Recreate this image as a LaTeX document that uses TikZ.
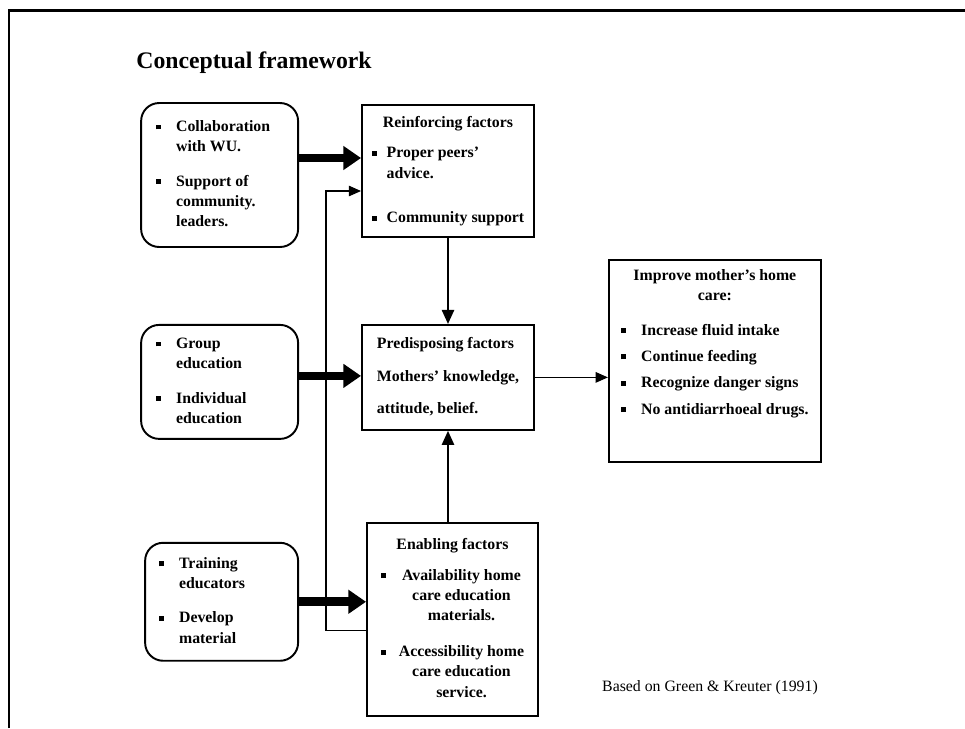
\documentclass[tikz,border=0pt]{standalone}
\usepackage{fontspec}
\setmainfont{Liberation Serif}
\usepackage{array}
\usetikzlibrary{arrows.meta,positioning}

\newcommand{\bul}{\rule[0.3ex]{2.8pt}{2.8pt}}

\begin{document}
\begin{tikzpicture}[x=0.02cm, y=-0.02cm,
  factor/.style={rectangle, draw, line width=1.1pt, inner sep=0pt,
                 font=\fontsize{9}{11.5}\selectfont\bfseries},
  action/.style={factor, rounded corners=0.36cm},
  bigarr/.style={-{Triangle[length=10pt, width=13pt]}, line width=5pt},
  arr/.style={-{Triangle[length=8pt, width=7pt]}, line width=1pt},
  thin/.style={-{Triangle[length=7pt, width=6pt]}, line width=0.7pt}
]
\useasboundingbox (0,0) rectangle (965,728);

%% ── Frame and title ───────────────────────────────────────────
\draw[line width=1.7pt] (9,728) -- (9,10) -- (965,10);
\node[font=\fontsize{13.5}{16}\selectfont\bfseries] (title) at (254,63) {Conceptual framework};

%% ── Factor boxes ──────────────────────────────────────────────
\node[factor, minimum width=3.44cm, minimum height=2.64cm] (reinf) at (448,171) {
  \begin{tabular}{@{}p{0.3cm}@{}l@{}}
    \multicolumn{2}{@{}c@{}}{Reinforcing factors}\\[6pt]
    \bul & Proper peers'\\
         & advice.\\[14pt]
    \bul & Community support
  \end{tabular}
};

\node[factor, minimum width=3.44cm, minimum height=2.1cm, below=1.72cm of reinf] (pred) {
  \begin{tabular}{@{}l@{}}
    Predisposing factors\\[7pt]
    Mothers' knowledge,\\[7pt]
    attitude, belief.
  \end{tabular}
};

\node[factor, minimum width=3.42cm, minimum height=3.86cm,
      below=1.82cm of pred, xshift=0.09cm] (enab) {
  \begin{tabular}{@{}p{0.36cm}@{}c@{}}
    \multicolumn{2}{@{}c@{}}{Enabling factors}\\[6pt]
    \bul & Availability home\\
         & care education\\
         & materials.\\[9pt]
    \bul & Accessibility home\\
         & care education\\
         & service.
  \end{tabular}
};

\node[factor, minimum width=4.24cm, minimum height=4.04cm,
      right=1.46cm of pred, yshift=0.33cm] (care) {
  \begin{tabular}{@{}p{0.4cm}@{}l@{}}
    \multicolumn{2}{@{}c@{}}{Improve mother's home}\\
    \multicolumn{2}{@{}c@{}}{care:}\\[8pt]
    \bul & Increase fluid intake\\[3.5pt]
    \bul & Continue feeding\\[3.5pt]
    \bul & Recognize danger signs\\[3.5pt]
    \bul & No antidiarrhoeal drugs.\\[0.7cm]
  \end{tabular}
};

%% ── Activity boxes ────────────────────────────────────────────
\node[action, minimum width=3.14cm, minimum height=2.88cm,
      left=1.24cm of reinf, yshift=-0.08cm] (collab) {
  \begin{tabular}{@{}p{0.4cm}@{}p{2.14cm}@{}}
    \bul & Collaboration\\
         & with WU.\\[8pt]
    \bul & Support of\\
         & community.\\
         & leaders.
  \end{tabular}
};

\node[action, minimum width=3.14cm, minimum height=2.28cm,
      left=1.24cm of pred, yshift=-0.09cm] (educ) {
  \begin{tabular}{@{}p{0.4cm}@{}p{2.14cm}@{}}
    \bul & Group\\
         & education\\[8pt]
    \bul & Individual\\
         & education
  \end{tabular}
};

\node[action, minimum width=3.06cm, minimum height=2.36cm,
      left=1.34cm of enab, yshift=0.35cm] (train) {
  \begin{tabular}{@{}p{0.4cm}@{}p{2.1cm}@{}}
    \bul & Training\\
         & educators\\[8pt]
    \bul & Develop\\
         & material
  \end{tabular}
};

\node[font=\fontsize{9}{11}\selectfont, anchor=west] (src) at (596,688)
  {Based on Green \& Kreuter (1991)};

%% ── Arrows ────────────────────────────────────────────────────
\draw[bigarr] ([yshift=0.34cm]collab.east) -- ([yshift=0.34cm]collab.east -| reinf.west);
\draw[bigarr] ([yshift=0.12cm]educ.east) -- ([yshift=0.12cm]educ.east -| pred.west);
\draw[bigarr] (train.east) -- (train.east -| enab.west);

\draw[arr] (reinf.south) -- (pred.north);
\draw[arr] (enab.north -| pred.south) -- (pred.south);
\draw[thin] (pred.east) -- (pred.east -| care.west);
\draw[thin] ([yshift=-0.23cm]enab.west) -- ++(-0.8cm,0) |- ([yshift=-0.4cm]reinf.west);

\end{tikzpicture}
\end{document}
